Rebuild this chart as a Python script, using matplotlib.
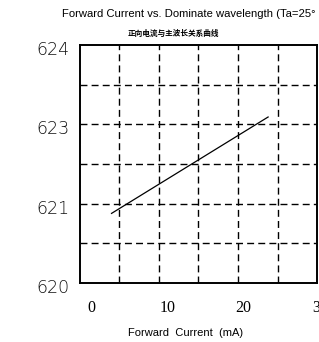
import matplotlib
matplotlib.use("Agg")
import matplotlib.pyplot as plt
import matplotlib.transforms as mtransforms
import numpy as np

# data
current_mA = [2.7, 23.2]
wavelength_nm = [621.17, 622.79]
x_tick_values = [0, 10, 20, 30]
x_tick_labels = ["0", "10", "20", "30"]
y_tick_values = [620.0, 620.0 + 4 * 2 / 6, 620.0 + 4 * 4 / 6, 624.0]
y_tick_labels = ["620", "621", "623", "624"]

title = "Forward Current vs. Dominate wavelength (Ta=25°"
subtitle = "正向电流与主波长关系曲线"
xlabel = "Forward  Current  (mA)"

W, H = 319, 342
fig = plt.figure(figsize=(W / 100, H / 100), dpi=100)
ax = fig.add_axes([80 / W, (H - 283) / H, (317 - 80) / W, (283 - 45) / H])

xmin, xmax = -1.43, 29.6
ymin, ymax = 620.0, 624.0
ax.set_xlim(xmin, xmax)
ax.set_ylim(ymin, ymax)

# dashed grid: 6 divisions each way
for gx in np.linspace(xmin, xmax, 7)[1:-1]:
    ax.axvline(gx, color="black", lw=1.0, ls=(0, (5, 3)), zorder=1)
for gy in np.linspace(ymin, ymax, 7)[1:-1]:
    ax.axhline(gy, color="black", lw=1.0, ls=(0, (5, 3)), zorder=1)

ax.plot(current_mA, wavelength_nm, color="black", lw=0.9, zorder=3)

for s in ax.spines.values():
    s.set_linewidth(1.4)
    s.set_color("black")

ax.set_xticks([])
ax.set_yticks([])

# y tick labels (thin sans), slightly below their gridlines
off = mtransforms.ScaledTranslation(0, -5 / 100, fig.dpi_scale_trans)
ytr = mtransforms.blended_transform_factory(ax.transAxes, ax.transData) + off
for v, lab in zip(y_tick_values, y_tick_labels):
    ax.text(-10 / 237, v, lab, transform=ytr, ha="right", va="center",
            fontsize=12.5, family="DejaVu Sans", fontweight="light",
            color="#111111", clip_on=False)

# x tick labels (serif)
xtr = mtransforms.blended_transform_factory(ax.transData, fig.transFigure)
for v, lab in zip(x_tick_values, x_tick_labels):
    ax.text(v, (H - 307.5) / H, lab, transform=xtr, ha="center", va="center",
            fontsize=11.5, family="Liberation Serif", color="black", clip_on=False)

fig.text(185.5 / W, (H - 333) / H, xlabel, ha="center", va="center",
         fontsize=8.0, family="Liberation Sans", color="black")

fig.text(62 / W, (H - 14) / H, title, ha="left", va="center",
         fontsize=8.1, family="Liberation Sans", color="black")
fig.text(173 / W, (H - 33) / H, subtitle, ha="center", va="center",
         fontsize=5.5, family=["Noto Sans CJK SC", "DejaVu Sans"],
         fontweight="bold", color="black")

fig.savefig("out.png", dpi=100, facecolor="white")
